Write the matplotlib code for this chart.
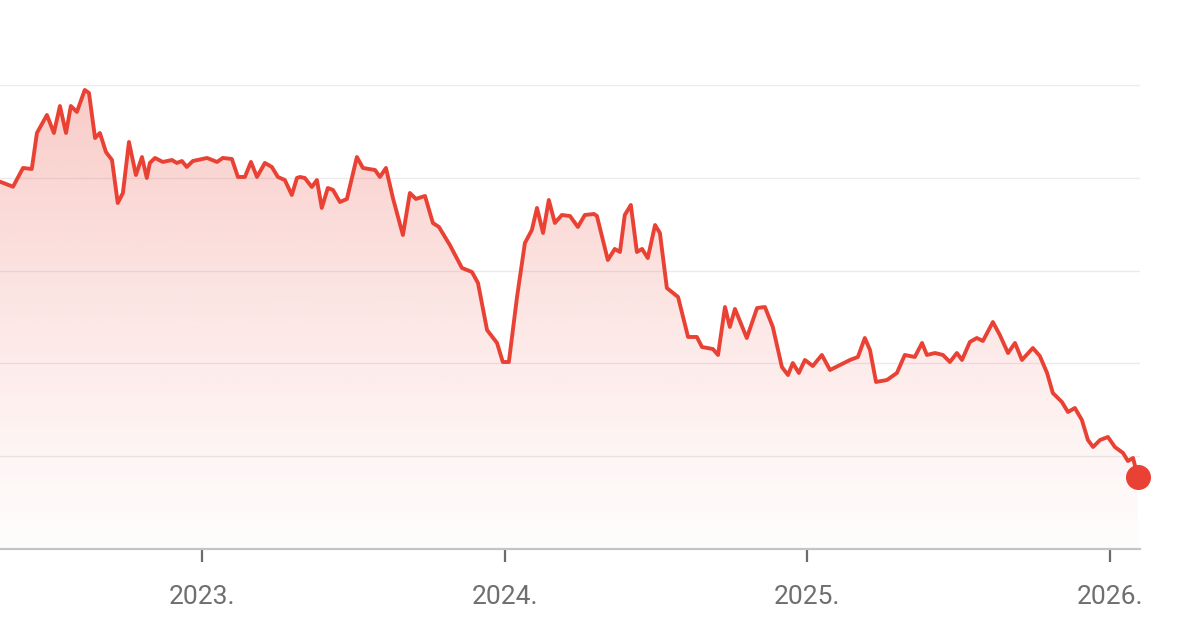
import numpy as np
import matplotlib
matplotlib.use("Agg")
import matplotlib.pyplot as plt
from matplotlib.patches import PathPatch
from matplotlib.path import Path

# ---- data (decimal years, price values) ----
dates = [
    2022.333, 2022.376, 2022.409, 2022.438, 2022.455, 2022.488, 2022.511, 2022.531,
    2022.551, 2022.567, 2022.587, 2022.613, 2022.627, 2022.647, 2022.663, 2022.683,
    2022.703, 2022.722, 2022.739, 2022.759, 2022.782, 2022.802, 2022.818, 2022.828,
    2022.845, 2022.871, 2022.901, 2022.917, 2022.934, 2022.950, 2022.970, 2023.017,
    2023.050, 2023.069, 2023.099, 2023.119, 2023.142, 2023.162, 2023.182, 2023.208,
    2023.231, 2023.251, 2023.274, 2023.297, 2023.314, 2023.324, 2023.340, 2023.363,
    2023.380, 2023.396, 2023.416, 2023.433, 2023.456, 2023.479, 2023.512, 2023.532,
    2023.572, 2023.588, 2023.608, 2023.631, 2023.664, 2023.687, 2023.707, 2023.737,
    2023.763, 2023.783, 2023.819, 2023.859, 2023.892, 2023.912, 2023.942, 2023.975,
    2023.994, 2024.014, 2024.041, 2024.067, 2024.090, 2024.107, 2024.127, 2024.146,
    2024.166, 2024.189, 2024.216, 2024.242, 2024.265, 2024.295, 2024.305, 2024.341,
    2024.364, 2024.381, 2024.397, 2024.417, 2024.437, 2024.454, 2024.473, 2024.497,
    2024.513, 2024.536, 2024.573, 2024.606, 2024.635, 2024.652, 2024.688, 2024.705,
    2024.728, 2024.744, 2024.761, 2024.800, 2024.834, 2024.860, 2024.886, 2024.916,
    2024.936, 2024.952, 2024.972, 2024.992, 2025.018, 2025.048, 2025.075, 2025.108,
    2025.141, 2025.167, 2025.190, 2025.207, 2025.227, 2025.263, 2025.296, 2025.322,
    2025.355, 2025.379, 2025.395, 2025.422, 2025.448, 2025.471, 2025.494, 2025.511,
    2025.537, 2025.560, 2025.580, 2025.613, 2025.636, 2025.663, 2025.686, 2025.709,
    2025.745, 2025.768, 2025.792, 2025.811, 2025.841, 2025.861, 2025.884, 2025.907,
    2025.927, 2025.944, 2025.967, 2025.993, 2026.016, 2026.043, 2026.059, 2026.076,
    2026.092,
]
prices = [
    39.60, 39.06, 41.08, 40.97, 44.85, 46.79, 44.85, 47.76,
    44.85, 47.76, 47.12, 49.49, 49.16, 44.31, 44.85, 42.80,
    41.94, 37.30, 38.38, 43.88, 40.32, 42.26, 40.00, 41.62,
    42.16, 41.73, 41.94, 41.62, 41.83, 41.19, 41.83, 42.16,
    41.73, 42.16, 42.05, 40.11, 40.11, 41.73, 40.11, 41.62,
    41.19, 40.11, 39.78, 38.17, 40.00, 40.11, 40.00, 39.03,
    39.78, 36.77, 38.92, 38.71, 37.41, 37.74, 42.26, 41.08,
    40.86, 40.11, 41.08, 37.84, 33.85, 38.38, 37.74, 38.06,
    35.15, 34.72, 32.78, 30.30, 29.87, 28.68, 23.61, 22.21,
    20.16, 20.16, 27.17, 32.99, 34.39, 36.77, 34.07, 37.63,
    35.15, 36.01, 35.90, 34.72, 36.01, 36.12, 35.90, 31.16,
    32.35, 32.02, 36.01, 37.09, 32.02, 32.35, 31.37, 34.93,
    34.07, 28.14, 27.17, 22.86, 22.86, 21.78, 21.56, 20.92,
    26.09, 23.94, 25.88, 22.75, 25.98, 26.09, 23.94, 19.62,
    18.76, 20.05, 18.98, 20.38, 19.73, 20.92, 19.30, 19.84,
    20.38, 20.70, 22.75, 21.46, 18.01, 18.22, 18.98, 20.92,
    20.70, 22.21, 20.92, 21.13, 20.92, 20.16, 21.13, 20.38,
    22.32, 22.75, 22.43, 24.47, 23.07, 21.13, 22.21, 20.38,
    21.67, 20.81, 18.98, 16.82, 15.85, 14.77, 15.20, 13.91,
    11.75, 11.00, 11.75, 12.08, 11.00, 10.35, 9.49, 9.81,
    7.76,
]
grid_values = [10, 20, 30, 40, 50]
tick_years = [2023, 2024, 2025, 2026]
tick_labels = ["2023.", "2024.", "2025.", "2026."]

RED = "#e94235"

plt.rcParams["font.family"] = ["Roboto", "DejaVu Sans"]

fig = plt.figure(figsize=(12, 6.3), dpi=100)
ax = fig.add_axes([0.0, 81 / 630, 1140 / 1200, 549 / 630])

x0, x1 = 2022.333, 2026.099
y0, y1 = 0.0, 59.19
ax.set_xlim(x0, x1)
ax.set_ylim(y0, y1)

# gridlines
for g in grid_values:
    ax.axhline(g, color="#ebebeb", lw=1.0, zorder=1)

# gradient fill under line
xs = np.array(dates)
ys = np.array(prices)
verts = [(xs[0], y0)] + list(zip(xs, ys)) + [(xs[-1], y0), (xs[0], y0)]
codes = [Path.MOVETO] + [Path.LINETO] * (len(verts) - 2) + [Path.CLOSEPOLY]
clip = PathPatch(Path(verts, codes), facecolor="none", edgecolor="none")
ax.add_patch(clip)

n = 256
rgba = np.zeros((n, 1, 4))
rgba[..., 0] = 233 / 255
rgba[..., 1] = 66 / 255
rgba[..., 2] = 53 / 255
yy = np.linspace(y0, y1, n)
rgba[:, 0, 3] = np.clip(0.015 + 0.26 * (yy / 50.0) ** 1.2, 0, 0.32)
im = ax.imshow(rgba, extent=[x0, x1, y0, y1], origin="lower", aspect="auto",
               zorder=2, interpolation="bilinear")
im.set_clip_path(clip)

ax.plot(xs, ys, color=RED, lw=2.8, solid_joinstyle="round",
        solid_capstyle="round", zorder=3)
ax.plot([xs[-1]], [ys[-1]], "o", color=RED, markersize=17, zorder=4, clip_on=False)

# axes styling
for s in ["top", "left", "right"]:
    ax.spines[s].set_visible(False)
ax.spines["bottom"].set_color("#c4c4c4")
ax.spines["bottom"].set_linewidth(1.6)
ax.set_yticks([])
ax.set_xticks(tick_years)
ax.set_xticklabels(tick_labels)
ax.tick_params(axis="x", direction="out", length=9, width=1.6, color="#6b6b6b",
               labelsize=19, labelcolor="#6f6f6f", pad=17)

fig.savefig("out.png", dpi=100, facecolor="white")
